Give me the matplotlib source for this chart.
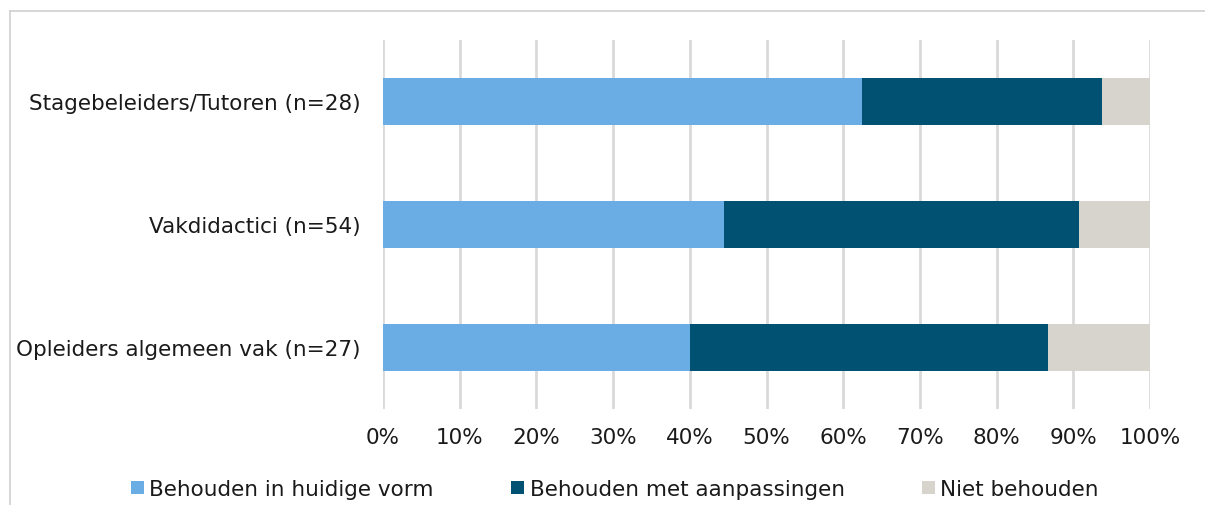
import matplotlib
matplotlib.use("Agg")
import matplotlib.pyplot as plt
import numpy as np

categories = ["Opleiders algemeen vak (n=27)", "Vakdidactici (n=54)", "Stagebeleiders/Tutoren (n=28)"]
series_names = ["Behouden in huidige vorm", "Behouden met aanpassingen", "Niet behouden"]
huidige = [40.0, 44.4, 62.5]
aanpassingen = [46.7, 46.3, 31.3]
niet = [13.3, 9.3, 6.2]
colors = ["#6AADE4", "#005172", "#D6D4CC"]
xticks = list(range(0, 101, 10))
xticklabels = [f"{t}%" for t in xticks]

plt.rcParams['font.family'] = ['DejaVu Sans']
FS = 15.5
W, H = 1205, 506
fig = plt.figure(figsize=(W / 100, H / 100), dpi=100)
ax = fig.add_axes([383 / W, 1 - 410 / H, (1150 - 383) / W, (410 - 41) / H])

y = np.arange(len(categories))
left = np.zeros(len(categories))
for vals, col, name in zip([huidige, aanpassingen, niet], colors, series_names):
    ax.barh(y, vals, left=left, height=0.39, color=col, label=name, zorder=3)
    left += np.array(vals)

ax.set_xlim(0, 100)
ax.set_ylim(-0.5, 2.5)
ax.set_xticks(xticks)
ax.set_xticklabels(xticklabels, fontsize=FS, color="#1a1a1a")
ax.set_yticks(y)
ax.set_yticklabels(categories, fontsize=FS, color="#1a1a1a")
ax.tick_params(axis="both", length=0)
ax.tick_params(axis="x", pad=13)
ax.tick_params(axis="y", pad=16)
ax.grid(axis="x", color="#D9D9D9", linewidth=2, zorder=0)
for s in ax.spines.values():
    s.set_visible(False)

# outer border (top and left)
fig.add_artist(plt.Line2D([10 / W, 1], [1 - 12 / H, 1 - 12 / H], color="#D0D0D0", linewidth=1.2, transform=fig.transFigure))
fig.add_artist(plt.Line2D([10 / W, 10 / W], [0, 1 - 12 / H], color="#D0D0D0", linewidth=1.2, transform=fig.transFigure))

handles, labels = ax.get_legend_handles_labels()
leg = fig.legend(handles, labels, loc="center", bbox_to_anchor=(615 / W, 1 - 490 / H), ncol=3,
                 frameon=False, fontsize=FS, handlelength=0.6, handleheight=0.6,
                 handletextpad=0.25, columnspacing=3.6, borderpad=0)
for t in leg.get_texts():
    t.set_color("#1a1a1a")

fig.savefig("out.png", dpi=100)
